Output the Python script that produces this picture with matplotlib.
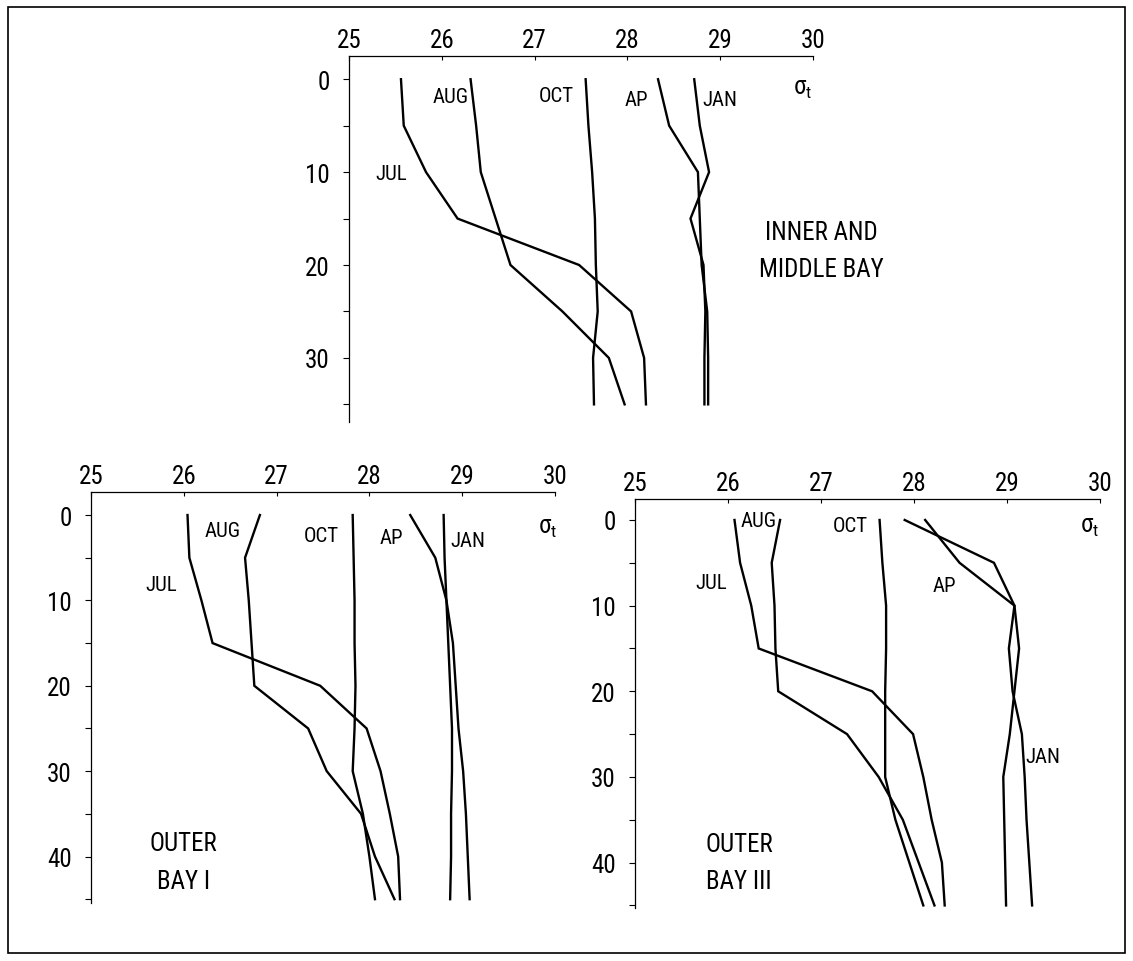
import matplotlib
matplotlib.use("Agg")
import matplotlib.pyplot as plt
from matplotlib import font_manager
from matplotlib.patches import Rectangle

# ---------------- data ----------------
months = ["JUL", "AUG", "OCT", "AP", "JAN"]

depth_inner = [0, 5, 10, 15, 20, 25, 30, 35]
inner_jul = [25.56, 25.59, 25.83, 26.17, 27.48, 28.04, 28.18, 28.20]
inner_aug = [26.31, 26.37, 26.42, 26.58, 26.74, 27.30, 27.80, 27.97]
inner_oct = [27.55, 27.58, 27.62, 27.65, 27.66, 27.68, 27.63, 27.64]
inner_ap = [28.33, 28.45, 28.76, 28.78, 28.80, 28.86, 28.87, 28.87]
inner_jan = [28.72, 28.78, 28.88, 28.68, 28.82, 28.84, 28.83, 28.83]

depth_outer = [0, 5, 10, 15, 20, 25, 30, 35, 40, 45]
outer1_jul = [26.04, 26.06, 26.19, 26.31, 27.47, 27.97, 28.12, 28.22, 28.31, 28.33]
outer1_aug = [26.82, 26.66, 26.70, 26.73, 26.76, 27.34, 27.54, 27.91, 28.06, 28.27]
outer1_oct = [27.82, 27.83, 27.84, 27.84, 27.85, 27.84, 27.82, 27.93, 28.00, 28.06]
outer1_ap = [28.44, 28.71, 28.83, 28.90, 28.93, 28.96, 29.01, 29.04, 29.06, 29.08]
outer1_jan = [28.80, 28.81, 28.83, 28.85, 28.87, 28.89, 28.89, 28.88, 28.88, 28.87]

outer3_jul = [26.07, 26.13, 26.25, 26.33, 27.55, 27.99, 28.10, 28.19, 28.30, 28.33]
outer3_aug = [26.56, 26.47, 26.50, 26.51, 26.54, 27.28, 27.62, 27.88, 28.05, 28.22]
outer3_oct = [27.63, 27.66, 27.70, 27.70, 27.69, 27.69, 27.69, 27.80, 27.95, 28.10]
outer3_ap = [27.90, 28.86, 29.08, 29.13, 29.08, 29.03, 28.96, 28.97, 28.98, 28.99]
outer3_jan = [28.12, 28.49, 29.08, 29.02, 29.06, 29.16, 29.19, 29.21, 29.24, 29.27]

x_ticks = [25, 26, 27, 28, 29, 30]

# ---------------- fonts ----------------
avail = {f.name for f in font_manager.fontManager.ttflist}
fam = "Liberation Sans"
for cand in ["Liberation Sans Narrow", "Arial Narrow", "Roboto Condensed", "Open Sans Condensed"]:
    if cand in avail:
        fam = cand
        break
narrow = fam != "Liberation Sans"
plt.rcParams["font.family"] = [fam, "DejaVu Sans"]
plt.rcParams["mathtext.fontset"] = "custom"
plt.rcParams["mathtext.rm"] = fam
plt.rcParams["mathtext.it"] = fam

tick_fs = 18 if narrow else 15
lab_fs = 15 if narrow else 12.5
big_fs = 18 if narrow else 15

W, H = 1133, 962
fig = plt.figure(figsize=(W / 100, H / 100), dpi=100)
fig.patches.append(Rectangle((8 / W, 1 - 954 / H), (1125 - 8) / W, (954 - 8) / H,
                             transform=fig.transFigure, fill=False, lw=1.2,
                             edgecolor="black"))


def px_axes(left, top, right, bottom):
    return fig.add_axes([left / W, 1 - bottom / H, (right - left) / W, (bottom - top) / H])


def style(ax, ymax_lab, ylim):
    ax.set_xlim(25, 30)
    ax.set_ylim(*ylim)
    for s in ["right", "bottom"]:
        ax.spines[s].set_visible(False)
    for s in ["left", "top"]:
        ax.spines[s].set_linewidth(0.9)
    ax.xaxis.tick_top()
    ax.set_xticks(x_ticks)
    ax.set_xticklabels([str(t) for t in x_ticks])
    ax.set_yticks(list(range(0, ymax_lab + 1, 10)))
    ax.set_yticks(list(range(5, int(ylim[0]) + 1, 10)), minor=True)
    ax.tick_params(axis="x", which="major", direction="in", length=3, pad=3,
                   labelsize=tick_fs, width=0.8)
    ax.tick_params(axis="y", which="both", direction="out", length=4, pad=10,
                   labelsize=tick_fs, width=0.8)
    ax.patch.set_alpha(0)


def draw(ax, depth, series):
    for s in series:
        ax.plot(s, depth, color="black", lw=1.7, solid_joinstyle="miter")


# ---------------- top panel ----------------
ax1 = px_axes(349, 57, 813, 423)
style(ax1, 30, (36.9, -2.5))
draw(ax1, depth_inner, [inner_jul, inner_aug, inner_oct, inner_ap, inner_jan])
ax1.text(26.10, 1.9, "AUG", fontsize=lab_fs, ha="center", va="center")
ax1.text(27.23, 1.8, "OCT", fontsize=lab_fs, ha="center", va="center")
ax1.text(28.10, 2.15, "AP", fontsize=lab_fs, ha="center", va="center")
ax1.text(29.00, 2.15, "JAN", fontsize=lab_fs, ha="center", va="center")
ax1.text(25.45, 10.2, "JUL", fontsize=lab_fs, ha="center", va="center")
ax1.text(29.89, 0.9, r"$\sigma_t$", fontsize=big_fs, ha="center", va="center")
ax1.text(30.09, 16.45, "INNER AND", fontsize=big_fs, ha="center", va="center")
ax1.text(30.09, 20.4, "MIDDLE BAY", fontsize=big_fs, ha="center", va="center")

# ---------------- bottom-left panel ----------------
ax2 = px_axes(91, 493, 555, 903.6)
style(ax2, 40, (45.4, -2.7))
draw(ax2, depth_outer, [outer1_jul, outer1_aug, outer1_oct, outer1_ap, outer1_jan])
ax2.text(26.42, 1.84, "AUG", fontsize=lab_fs, ha="center", va="center")
ax2.text(25.76, 8.1, "JUL", fontsize=lab_fs, ha="center", va="center")
ax2.text(27.48, 2.43, "OCT", fontsize=lab_fs, ha="center", va="center")
ax2.text(28.24, 2.58, "AP", fontsize=lab_fs, ha="center", va="center")
ax2.text(29.06, 3.0, "JAN", fontsize=lab_fs, ha="center", va="center")
ax2.text(29.92, 1.4, r"$\sigma_t$", fontsize=big_fs, ha="center", va="center")
ax2.text(26.00, 38.4, "OUTER", fontsize=big_fs, ha="center", va="center")
ax2.text(26.00, 42.9, "BAY I", fontsize=big_fs, ha="center", va="center")

# ---------------- bottom-right panel ----------------
ax3 = px_axes(635, 500, 1100, 909)
style(ax3, 40, (45.3, -2.45))
draw(ax3, depth_outer, [outer3_jul, outer3_aug, outer3_oct, outer3_ap, outer3_jan])
ax3.text(26.33, 0.1, "AUG", fontsize=lab_fs, ha="center", va="center")
ax3.text(25.82, 7.27, "JUL", fontsize=lab_fs, ha="center", va="center")
ax3.text(27.31, 0.67, "OCT", fontsize=lab_fs, ha="center", va="center")
ax3.text(28.33, 7.67, "AP", fontsize=lab_fs, ha="center", va="center")
ax3.text(29.39, 27.65, "JAN", fontsize=lab_fs, ha="center", va="center")
ax3.text(29.89, 0.67, r"$\sigma_t$", fontsize=big_fs, ha="center", va="center")
ax3.text(26.12, 37.8, "OUTER", fontsize=big_fs, ha="center", va="center")
ax3.text(26.12, 42.1, "BAY III", fontsize=big_fs, ha="center", va="center")

fig.savefig("out.png", dpi=100)
